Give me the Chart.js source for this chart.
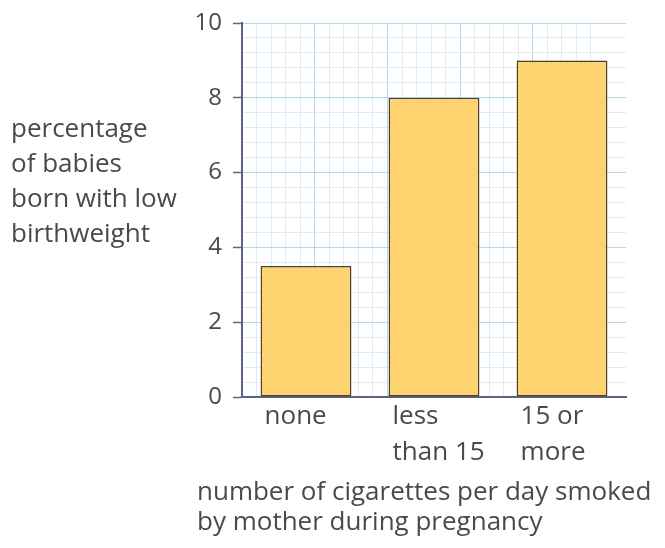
<!DOCTYPE html>
<html><head><meta charset="utf-8">
<script src="https://cdn.jsdelivr.net/npm/chart.js@4"></script>
<style>html,body{margin:0;padding:0;background:#fff}</style>
</head><body>
<canvas id="c" width="665" height="548" style="display:block;width:665px;height:548px"></canvas>
<script>
const categories = [["none"], ["less", "than 15"], ["15 or", "more"]];
const values = [3.5, 8, 9];
const yTickLabels = ["0", "2", "4", "6", "8", "10"];
const yTitleLines = ["percentage", "of babies", "born with low", "birthweight"];
const xTitleLines = ["number of cigarettes per day smoked", "by mother during pregnancy"];

const FONT = '"Open Sans", sans-serif';
const TEXT = '#4a4a4a';
const AXIS = '#5b6487';
const MINOR = '#dcebf6';
const MAJOR = '#b5d6eb';

function isMajor(v, step) { return Math.abs(v / step - Math.round(v / step)) < 1e-6; }
function tickMajor(ctx, step) { return ctx && ctx.tick ? isMajor(ctx.tick.value, step) : false; }
function tickInt(ctx) { return ctx && ctx.tick ? isMajor(ctx.tick.value, 1) : false; }

const textPlugin = {
  id: 'texts',
  afterDraw(chart) {
    const ctx = chart.ctx;
    const meta = chart.getDatasetMeta(0);
    const area = chart.chartArea;
    ctx.save();
    ctx.fillStyle = TEXT;
    ctx.font = '26px ' + FONT;
    ctx.textBaseline = 'middle';
    ctx.textAlign = 'left';
    meta.data.forEach((bar, i) => {
      const p = bar.getProps(['x', 'width'], true);
      const left = p.x - p.width / 2 + 4;
      categories[i].forEach((line, j) => ctx.fillText(line, left, area.bottom + 20 + j * 36));
    });
    yTitleLines.forEach((l, j) => ctx.fillText(l, 11, 130 + j * 35));
    xTitleLines.forEach((l, j) => ctx.fillText(l, 197, 493 + j * 30));
    ctx.restore();
  }
};

new Chart(document.getElementById('c'), {
  type: 'bar',
  data: {
    labels: categories.map(c => c.join(' ')),
    datasets: [{
      data: values,
      backgroundColor: '#fcd36f',
      borderColor: '#4d3f30',
      borderWidth: 1.5,
      borderSkipped: false,
      barPercentage: 0.71,
      categoryPercentage: 1.0
    }]
  },
  options: {
    responsive: false,
    animation: false,
    events: [],
    layout: { padding: { left: 0, right: 39, top: 21, bottom: 0 } },
    plugins: { legend: { display: false }, tooltip: { enabled: false } },
    scales: {
      x: {
        type: 'category',
        position: 'bottom',
        grid: { display: false },
        border: { display: true, color: AXIS, width: 2 },
        ticks: { display: false },
        afterFit(s) { s.height = 548 - 397; }
      },
      x2: {
        type: 'linear',
        position: 'top',
        min: 0, max: 25.4,
        ticks: { display: false, stepSize: 1 },
        border: { display: false },
        grid: {
          drawTicks: false,
          lineWidth: 1,
          color: ctx => !tickInt(ctx) ? 'rgba(0,0,0,0)' : (tickMajor(ctx, 5) ? MAJOR : MINOR)
        },
        afterFit(s) { s.height = 0; }
      },
      y: {
        min: 0, max: 10,
        ticks: {
          stepSize: 0.4,
          autoSkip: false,
          padding: 11,
          color: TEXT,
          font: { family: FONT, size: 24, lineHeight: 1 },
          callback: v => isMajor(v, 2) ? yTickLabels[Math.round(v / 2)] : ''
        },
        border: { display: true, color: AXIS, width: 2 },
        grid: {
          lineWidth: 1,
          tickLength: 9,
          color: ctx => tickMajor(ctx, 2) ? MAJOR : MINOR,
          tickColor: ctx => tickMajor(ctx, 2) ? AXIS : 'rgba(0,0,0,0)',
          tickWidth: 1.5
        },
        afterFit(s) { s.width = 242; }
      }
    }
  },
  plugins: [textPlugin]
});
</script>
</body></html>
